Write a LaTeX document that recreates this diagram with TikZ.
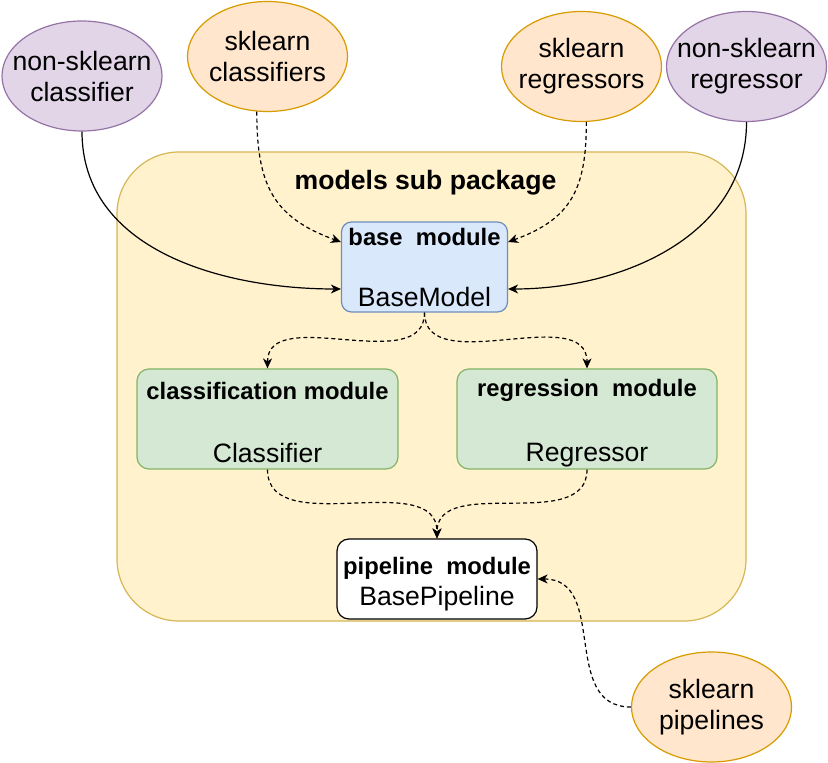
\documentclass[tikz,border=0pt]{standalone}
\usepackage{fontspec}
\setmainfont{Liberation Sans}
\usetikzlibrary{shapes.geometric, arrows.meta, positioning}
\tikzset{>={Stealth[length=5pt,width=4.5pt,inset=1.5pt]}}
\definecolor{mypurple}{RGB}{225, 213, 231}
\definecolor{mypurpleline}{RGB}{150, 115, 166}
\definecolor{myorange}{RGB}{255, 230, 204}
\definecolor{myorangeline}{RGB}{215, 155, 0}
\definecolor{myyellow}{RGB}{255, 242, 204}
\definecolor{myyellowline}{RGB}{214, 182, 86}
\definecolor{myblue}{RGB}{218, 232, 252}
\definecolor{myblueline}{RGB}{108, 142, 191}
\definecolor{mygreen}{RGB}{213, 232, 212}
\definecolor{mygreenline}{RGB}{130, 179, 102}
% header line of a module box, #1 = strut height
\newcommand{\modhead}[2]{{\fontsize{11.9}{14}\selectfont\bfseries\rule{0pt}{#1}#2}}
\tikzset{
  txt/.style={font=\fontsize{13.3}{15.5}\selectfont, align=center, inner sep=0pt},
  ext/.style={ellipse, draw, minimum width=80pt, minimum height=55pt, inner sep=0pt, line width=0.6pt},
  nonsk/.style={ext, fill=mypurple, draw=mypurpleline},
  sk/.style={ext, fill=myorange, draw=myorangeline},
  modbox/.style={rectangle, rounded corners=6pt, draw, txt, line width=0.6pt},
  link/.style={->, line width=0.6pt},
  dlink/.style={link, dash pattern=on 2pt off 1.5pt}
}

\begin{document}
\begin{tikzpicture}[x=0.5pt,y=0.5pt]
\useasboundingbox (0,0) rectangle (828,-763);
% models sub package
\node[rectangle, rounded corners=31pt, fill=myyellow, draw=myyellowline, line width=0.6pt,
  minimum width=314.5pt, minimum height=234.5pt] (pkg) at (431.5,-386.5) {};
\node[txt, font=\fontsize{13.3}{15.5}\selectfont\bfseries] (pkgtitle) at (425.5,-183) {models sub package};

\node[modbox, fill=myblue, draw=myblueline, minimum width=83pt, minimum height=45pt, rounded corners=5pt]
  (base) at (424.5,-267) {\modhead{9pt}{base\ \ module}\\[15pt]BaseModel};
\node[modbox, fill=mygreen, draw=mygreenline, minimum width=130.5pt, minimum height=50pt]
  (cls) at (267.5,-419) {\modhead{12pt}{classification module}\\[16pt]Classifier};
\node[modbox, fill=mygreen, draw=mygreenline, minimum width=130pt, minimum height=50pt]
  (reg) at (587,-419) {\modhead{13pt}{regression\ \ module}\\[17pt]Regressor};
\node[modbox, fill=white, draw=black, minimum width=100pt, minimum height=40pt]
  (pip) at (437,-579) {\modhead{14pt}{pipeline\ \ module}\\BasePipeline};

% outside packages
\node[nonsk] (ncls) at (82,-76) {};
\node[txt] (ncls-txt) at (ncls) {non-sklearn\\classifier};
\node[sk] (scls) at (267.5,-56.5) {};
\node[txt] (scls-txt) at (scls) {sklearn\\classifiers};
\node[sk] (sreg) at (581.5,-66.5) {};
\node[txt] (sreg-txt) at (sreg) {sklearn\\regressors};
\node[nonsk] (nreg) at (746.5,-66.5) {};
\node[txt] (nreg-txt) at (nreg) {non-sklearn\\regressor};
\node[sk] (spip) at (711.5,-707) {};
\node[txt] (spip-txt) at (spip) {sklearn\\pipelines};

\draw[link] (ncls.south) to[out=-90, in=180] ([yshift=-11pt]base.west);
\draw[dlink] (scls.-101) to[out=-90, in=160, looseness=1.2] ([yshift=12.5pt]base.west);
\draw[dlink] (sreg.-85) to[out=-90, in=20, looseness=1.2] ([yshift=12.5pt]base.east);
\draw[link] (nreg.south) to[out=-90, in=0] ([yshift=-11pt]base.east);
\draw[dlink] (base.south) to[out=-90, in=90] (cls.north);
\draw[dlink] (base.south) to[out=-90, in=90] (reg.north);
\draw[dlink] (cls.south) to[out=-90, in=90] (pip.north);
\draw[dlink] (reg.south) to[out=-90, in=90] (pip.north);
\draw[dlink] (spip.west) to[out=180, in=0, looseness=1.15] (pip.east);
\end{tikzpicture}
\end{document}
